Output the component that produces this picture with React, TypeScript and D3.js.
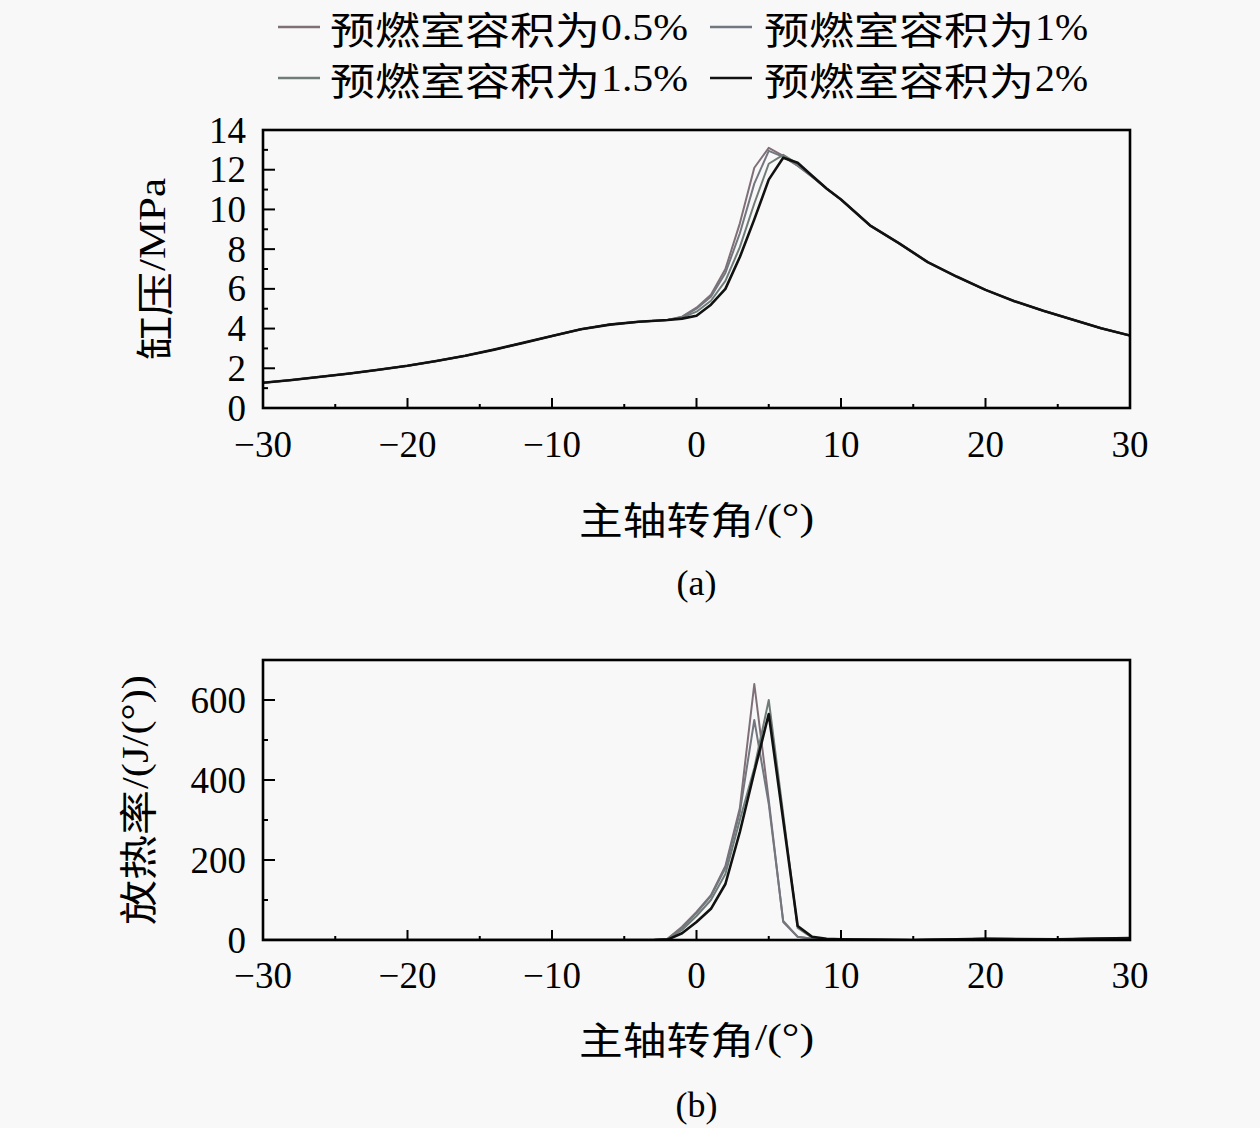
import React from "react";
import * as d3 from "d3";

// ---------- data ----------
const seriesCjk = ["预燃室容积为", "预燃室容积为", "预燃室容积为", "预燃室容积为"];
const seriesPct = ["0.5%", "1%", "1.5%", "2%"];
const seriesColors = ["#7f6f77", "#72767f", "#6f7c78", "#111111"];
const seriesWidths = [2, 2, 2, 2.6];

// (a) cylinder pressure, MPa
const angleA = [-30, -28, -26, -24, -22, -20, -18, -16, -14, -12, -10, -8, -6, -4, -2,
  -1, 0, 1, 2, 3, 4, 5, 6, 7, 8, 9,
  10, 12, 14, 16, 18, 20, 22, 24, 26, 28, 30];
const pressure05 = [1.27, 1.41, 1.57, 1.74, 1.93, 2.13, 2.37, 2.63, 2.94, 3.28, 3.63, 3.97, 4.2, 4.34, 4.43,
  4.6, 5.05, 5.7, 7.0, 9.3, 12.1, 13.1, 12.7, 12.2, 11.65, 11.05,
  10.5, 9.2, 8.3, 7.35, 6.62, 5.95, 5.38, 4.9, 4.46, 4.02, 3.65];
const pressure1 = [1.27, 1.41, 1.57, 1.74, 1.93, 2.13, 2.37, 2.63, 2.94, 3.28, 3.63, 3.97, 4.2, 4.34, 4.43,
  4.58, 5.0, 5.6, 6.8, 8.8, 11.3, 12.95, 12.65, 12.2, 11.65, 11.05,
  10.5, 9.2, 8.3, 7.35, 6.62, 5.95, 5.38, 4.9, 4.46, 4.02, 3.65];
const pressure15 = [1.27, 1.41, 1.57, 1.74, 1.93, 2.13, 2.37, 2.63, 2.94, 3.28, 3.63, 3.97, 4.2, 4.34, 4.43,
  4.55, 4.85, 5.4, 6.4, 8.1, 10.3, 12.3, 12.75, 12.3, 11.7, 11.05,
  10.5, 9.2, 8.3, 7.35, 6.62, 5.95, 5.38, 4.9, 4.46, 4.02, 3.65];
const pressure2 = [1.27, 1.41, 1.57, 1.74, 1.93, 2.13, 2.37, 2.63, 2.94, 3.28, 3.63, 3.97, 4.2, 4.34, 4.43,
  4.5, 4.65, 5.2, 6.0, 7.6, 9.5, 11.5, 12.6, 12.35, 11.7, 11.05,
  10.5, 9.2, 8.3, 7.35, 6.62, 5.95, 5.38, 4.9, 4.46, 4.02, 3.65];

// (b) heat release rate, J/(°)
const angleB = [-30, -20, -10, -4, -3, -2, -1, 0, 1, 2, 3, 4, 5, 6, 7, 8, 9, 10, 15, 20, 25, 30];
const heat05 = [0, 0, 0, 0, 0, 3, 33, 70, 112, 185, 330, 640, 350, 45, 8, 3, 2, 1, 0, 3, 2, 5];
const heat1 = [0, 0, 0, 0, 0, 3, 30, 68, 110, 180, 320, 550, 340, 48, 8, 3, 2, 1, 0, 3, 2, 5];
const heat15 = [0, 0, 0, 0, 0, 2, 25, 60, 100, 165, 300, 430, 600, 315, 30, 6, 2, 1, 0, 3, 2, 5];
const heat2 = [0, 0, 0, 0, 0, 1, 17, 45, 78, 140, 270, 420, 565, 300, 35, 8, 3, 2, 0, 3, 2, 5];

const xTicks = [-30, -20, -10, 0, 10, 20, 30];
const yTicksA = [0, 2, 4, 6, 8, 10, 12, 14];
const yTicksB = [0, 200, 400, 600];

const pressureSeries = [pressure05, pressure1, pressure15, pressure2];
const heatSeries = [heat05, heat1, heat15, heat2];

const SERIF = "'Liberation Serif', 'Times New Roman', serif";
const CJK = "'Noto Sans CJK SC', sans-serif";

// text made of a CJK run followed by a Latin run, each stretched to a given width
function Mixed(props: {
  x: number;
  y: number;
  cjk: string;
  latin: string;
  cjkLen: number;
  latinLen: number;
  size?: number;
  anchor?: "start" | "middle";
  rotate?: boolean;
}) {
  const size = props.size ?? 38;
  const total = props.cjkLen + props.latinLen;
  const start = props.anchor === "middle" ? -total / 2 : 0;
  const tr = `translate(${props.x},${props.y})${props.rotate ? " rotate(-90)" : ""}`;
  return (
    <g transform={tr}>
      <text
        x={start}
        y={0}
        dominantBaseline="central"
        fontSize={size}
        fontFamily={CJK}
        textLength={props.cjkLen}
        lengthAdjust="spacingAndGlyphs"
      >
        {props.cjk}
      </text>
      <text
        x={start + props.cjkLen + 1}
        y={0}
        dominantBaseline="central"
        fontSize={size}
        fontFamily={SERIF}
        textLength={props.latinLen - 1}
        lengthAdjust="spacingAndGlyphs"
      >
        {props.latin}
      </text>
    </g>
  );
}

type PanelProps = {
  top: number;
  bottom: number;
  yMax: number;
  yTicks: number[];
  yMinorStep: number;
  angles: number[];
  series: number[][];
  yCjk: string;
  yLatin: string;
  yCjkLen: number;
  yLatinLen: number;
  yLabelX: number;
  yLabelCenter: number;
  xLabelY: number;
  tickLabelY: number;
  caption: string;
  captionY: number;
};

const LEFT = 263;
const RIGHT = 1130;

function Panel(p: PanelProps) {
  const x = d3.scaleLinear().domain([-30, 30]).range([LEFT, RIGHT]);
  const y = d3.scaleLinear().domain([0, p.yMax]).range([p.bottom, p.top]);
  const line = d3
    .line<number>()
    .x((_, i) => x(p.angles[i]))
    .y((d) => y(d));
  const yMinor = d3.range(p.yMinorStep, p.yMax, p.yMinorStep * 2);
  const xMinor = d3.range(-25, 30, 10);
  return (
    <g>
      <defs>
        <clipPath id={"clip" + p.top}>
          <rect x={LEFT} y={p.top} width={RIGHT - LEFT} height={p.bottom - p.top} />
        </clipPath>
      </defs>
      <g clipPath={`url(#clip${p.top})`}>
        {p.series.map((s, i) => (
          <path
            key={i}
            d={line(s) || ""}
            fill="none"
            stroke={seriesColors[i]}
            strokeWidth={seriesWidths[i]}
            strokeLinejoin="round"
          />
        ))}
      </g>
      {p.yTicks.map((t) => (
        <line key={"ym" + t} x1={LEFT} x2={LEFT + 12} y1={y(t)} y2={y(t)} stroke="#000" strokeWidth={2} />
      ))}
      {yMinor.map((t) => (
        <line key={"yn" + t} x1={LEFT} x2={LEFT + 5} y1={y(t)} y2={y(t)} stroke="#000" strokeWidth={2} />
      ))}
      {xTicks.map((t) => (
        <line key={"xm" + t} x1={x(t)} x2={x(t)} y1={p.bottom} y2={p.bottom - 10} stroke="#000" strokeWidth={2} />
      ))}
      {xMinor.map((t) => (
        <line key={"xn" + t} x1={x(t)} x2={x(t)} y1={p.bottom} y2={p.bottom - 4} stroke="#000" strokeWidth={2} />
      ))}
      <rect
        x={LEFT}
        y={p.top}
        width={RIGHT - LEFT}
        height={p.bottom - p.top}
        fill="none"
        stroke="#000"
        strokeWidth={2.6}
      />
      {p.yTicks.map((t) => (
        <text
          key={"yl" + t}
          x={LEFT - 17}
          y={y(t)}
          textAnchor="end"
          dominantBaseline="central"
          fontSize={37}
          fontFamily={SERIF}
        >
          {t}
        </text>
      ))}
      {xTicks.map((t) => (
        <text
          key={"xl" + t}
          x={x(t)}
          y={p.tickLabelY}
          textAnchor="middle"
          dominantBaseline="central"
          fontSize={37}
          fontFamily={SERIF}
        >
          {t < 0 ? "\u2212" + Math.abs(t) : t}
        </text>
      ))}
      <Mixed
        x={p.yLabelX}
        y={p.yLabelCenter}
        cjk={p.yCjk}
        latin={p.yLatin}
        cjkLen={p.yCjkLen}
        latinLen={p.yLatinLen}
        anchor="middle"
        rotate
      />
      <Mixed x={x(0)} y={p.xLabelY} cjk="主轴转角" latin="/(°)" cjkLen={175} latinLen={60} anchor="middle" />
      <text x={x(0)} y={p.captionY} textAnchor="middle" dominantBaseline="central" fontSize={36} fontFamily={SERIF}>
        {p.caption}
      </text>
    </g>
  );
}

export default function App() {
  const legendItems = [
    { lx: 278, tx: 330, y: 27, latinLen: 88 },
    { lx: 710, tx: 764, y: 27, latinLen: 54 },
    { lx: 278, tx: 330, y: 78, latinLen: 88 },
    { lx: 710, tx: 764, y: 78, latinLen: 54 },
  ];
  return (
    <svg width={1260} height={1128} style={{ position: "absolute", left: 0, top: 0, background: "#f8f8f8" }}>
      <rect width={1260} height={1128} fill="#f8f8f8" />
      {seriesCjk.map((n, i) => {
        const it = legendItems[i];
        return (
          <g key={i}>
            <line x1={it.lx} x2={it.lx + 42} y1={it.y} y2={it.y} stroke={seriesColors[i]} strokeWidth={2.4} />
            <Mixed x={it.tx} y={it.y} cjk={n} latin={seriesPct[i]} cjkLen={270} latinLen={it.latinLen} />
          </g>
        );
      })}
      <Panel
        top={130}
        bottom={408}
        yMax={14}
        yTicks={yTicksA}
        yMinorStep={1}
        angles={angleA}
        series={pressureSeries}
        yCjk="缸压"
        yLatin="/MPa"
        yCjkLen={88}
        yLatinLen={94}
        yLabelX={152}
        yLabelCenter={269}
        xLabelY={517}
        tickLabelY={444}
        caption="(a)"
        captionY={583}
      />
      <Panel
        top={660}
        bottom={940}
        yMax={700}
        yTicks={yTicksB}
        yMinorStep={100}
        angles={angleB}
        series={heatSeries}
        yCjk="放热率"
        yLatin="/(J/(°))"
        yCjkLen={135}
        yLatinLen={115}
        yLabelX={135}
        yLabelCenter={800}
        xLabelY={1037}
        tickLabelY={975}
        caption="(b)"
        captionY={1105}
      />
    </svg>
  );
}
